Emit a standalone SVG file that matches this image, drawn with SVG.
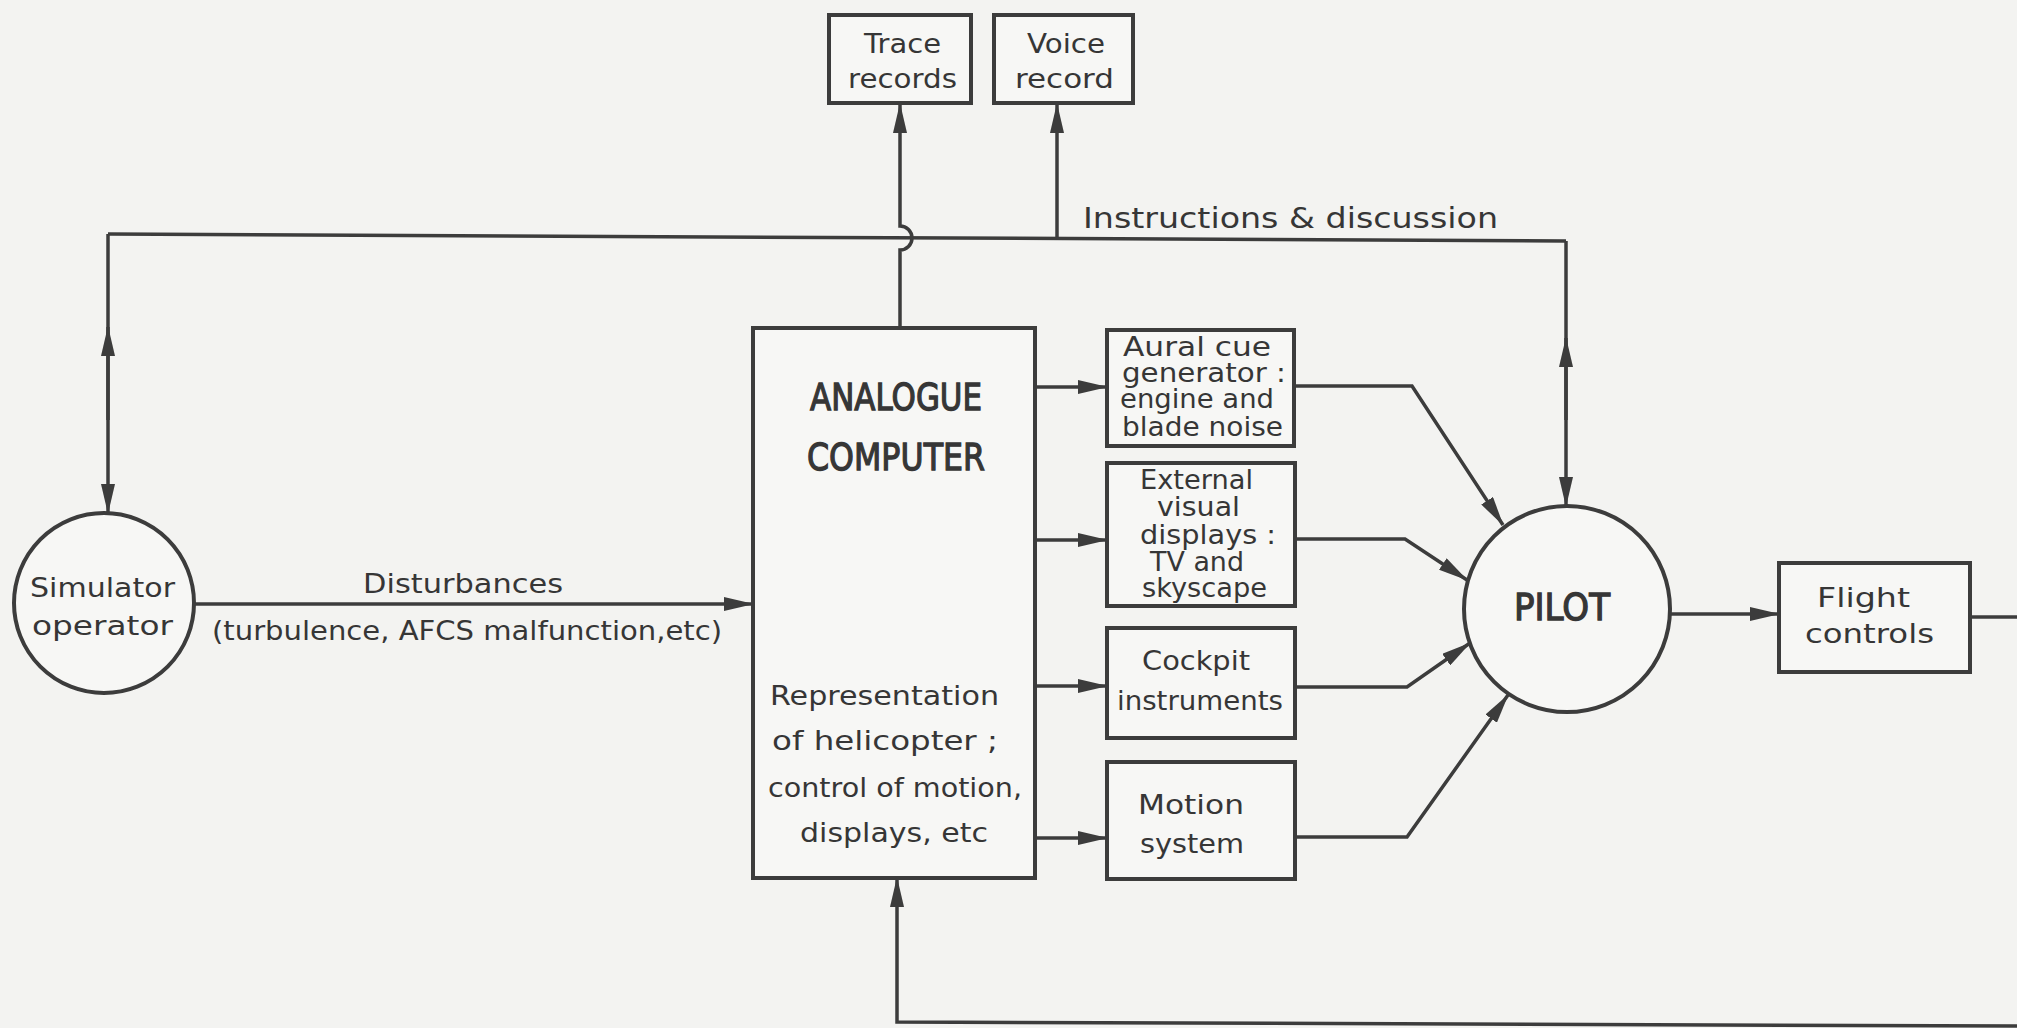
<svg xmlns="http://www.w3.org/2000/svg" width="2017" height="1028" viewBox="0 0 2017 1028">
<style>
.bg{fill:#f3f3f1}
.box{fill:#f7f7f5;stroke:#3c3c3c;stroke-width:4}
.ln{fill:none;stroke:#3c3c3c;stroke-width:3.5}
.arr{fill:none;stroke:#3c3c3c;stroke-width:3.5;marker-end:url(#ah)}
text{font-family:"DejaVu Sans","Liberation Sans",sans-serif;font-size:26px;fill:#363636}
.big{font-size:37px;stroke:#363636;stroke-width:1.3}
.mid{font-size:28px}
</style>
<defs>
<marker id="ah" viewBox="0 0 30 14" refX="29" refY="7" markerWidth="30" markerHeight="14" markerUnits="userSpaceOnUse" orient="auto">
<path d="M0,0 L30,7 L0,14 z" fill="#3c3c3c"/>
</marker>
</defs>
<rect class="bg" x="0" y="0" width="2017" height="1028"/>

<g id="connectors">
<path class="ln" d="M108,234 L1566,241"/>
<path class="arr" d="M108,234 V513"/>
<path class="arr" d="M108,420 V327"/>
<path class="arr" d="M1566,241 V506"/>
<path class="arr" d="M1566,420 V338"/>
<path class="arr" d="M900,328 V250 A12,12 0 0 0 900,226 V104"/>
<path class="arr" d="M1057,238 V104"/>
<path class="arr" d="M193,604 H753"/>
<path class="arr" d="M1035,387 H1107"/>
<path class="arr" d="M1035,540 H1107"/>
<path class="arr" d="M1035,686 H1107"/>
<path class="arr" d="M1035,838 H1107"/>
<path class="arr" d="M1294,386 H1412 L1503,525"/>
<path class="arr" d="M1295,539 H1405 L1467,580"/>
<path class="arr" d="M1295,687 H1407 L1470,643"/>
<path class="arr" d="M1295,837 H1407 L1508,695"/>
<path class="arr" d="M1670,614 H1779"/>
<path class="ln" d="M1970,617 H2017"/>
<path class="arr" d="M2017,1026 L897,1022 V878"/>
</g>

<g id="trace">
<rect class="box" x="829" y="15" width="142" height="88"/>
<text x="864" y="53" textLength="77" lengthAdjust="spacingAndGlyphs">Trace</text>
<text x="848" y="88" textLength="109" lengthAdjust="spacingAndGlyphs">records</text>
</g>
<g id="voice">
<rect class="box" x="994" y="15" width="139" height="88"/>
<text x="1027" y="53" textLength="78" lengthAdjust="spacingAndGlyphs">Voice</text>
<text x="1015" y="88" textLength="99" lengthAdjust="spacingAndGlyphs">record</text>
</g>
<g id="instructions-label">
<text class="mid" x="1083" y="228" textLength="415" lengthAdjust="spacingAndGlyphs">Instructions &amp; discussion</text>
</g>
<g id="computer">
<rect class="box" x="753" y="328" width="282" height="550"/>
<text class="big" x="810" y="410" textLength="172" lengthAdjust="spacingAndGlyphs">ANALOGUE</text>
<text class="big" x="807" y="470" textLength="178" lengthAdjust="spacingAndGlyphs">COMPUTER</text>
<text x="770" y="705" textLength="229" lengthAdjust="spacingAndGlyphs">Representation</text>
<text x="772" y="750" textLength="226" lengthAdjust="spacingAndGlyphs">of  helicopter ;</text>
<text x="768" y="797" textLength="254" lengthAdjust="spacingAndGlyphs">control of motion,</text>
<text x="800" y="842" textLength="188" lengthAdjust="spacingAndGlyphs">displays, etc</text>
</g>
<g id="aural">
<rect class="box" x="1107" y="330" width="187" height="116"/>
<text x="1123" y="356" textLength="148" lengthAdjust="spacingAndGlyphs">Aural  cue</text>
<text x="1122" y="382" textLength="164" lengthAdjust="spacingAndGlyphs">generator :</text>
<text x="1120" y="408" textLength="154" lengthAdjust="spacingAndGlyphs">engine and</text>
<text x="1122" y="436" textLength="161" lengthAdjust="spacingAndGlyphs">blade noise</text>
</g>
<g id="external">
<rect class="box" x="1107" y="463" width="188" height="143"/>
<text x="1140" y="489" textLength="113" lengthAdjust="spacingAndGlyphs">External</text>
<text x="1157" y="516" textLength="83" lengthAdjust="spacingAndGlyphs">visual</text>
<text x="1140" y="544" textLength="136" lengthAdjust="spacingAndGlyphs">displays :</text>
<text x="1150" y="571" textLength="94" lengthAdjust="spacingAndGlyphs">TV  and</text>
<text x="1142" y="597" textLength="125" lengthAdjust="spacingAndGlyphs">skyscape</text>
</g>
<g id="cockpit">
<rect class="box" x="1107" y="628" width="188" height="110"/>
<text x="1142" y="670" textLength="108" lengthAdjust="spacingAndGlyphs">Cockpit</text>
<text x="1117" y="710" textLength="166" lengthAdjust="spacingAndGlyphs">instruments</text>
</g>
<g id="motion">
<rect class="box" x="1107" y="762" width="188" height="117"/>
<text x="1138" y="814" textLength="106" lengthAdjust="spacingAndGlyphs">Motion</text>
<text x="1140" y="853" textLength="104" lengthAdjust="spacingAndGlyphs">system</text>
</g>
<g id="pilot">
<circle class="box" cx="1567" cy="609" r="103"/>
<text class="big" x="1514" y="620" textLength="96" lengthAdjust="spacingAndGlyphs">PILOT</text>
</g>
<g id="flight">
<rect class="box" x="1779" y="563" width="191" height="109"/>
<text x="1817" y="607" textLength="93" lengthAdjust="spacingAndGlyphs">Flight</text>
<text x="1805" y="643" textLength="129" lengthAdjust="spacingAndGlyphs">controls</text>
</g>
<g id="simulator">
<circle class="box" cx="104" cy="603" r="90"/>
<text x="30" y="597" textLength="145" lengthAdjust="spacingAndGlyphs">Simulator</text>
<text x="32" y="635" textLength="141" lengthAdjust="spacingAndGlyphs">operator</text>
</g>
<g id="disturbance-labels">
<text x="363" y="593" textLength="200" lengthAdjust="spacingAndGlyphs">Disturbances</text>
<text x="212" y="640" textLength="510" lengthAdjust="spacingAndGlyphs">(turbulence, AFCS malfunction,etc)</text>
</g>
</svg>
